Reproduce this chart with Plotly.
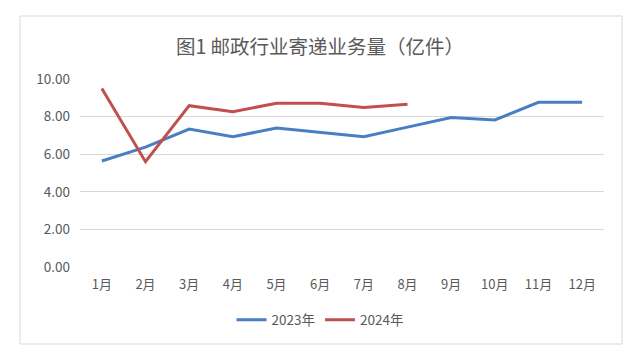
import plotly.graph_objects as go

months = ["1月", "2月", "3月", "4月", "5月", "6月", "7月", "8月", "9月", "10月", "11月", "12月"]
y2023 = [5.64, 6.38, 7.34, 6.93, 7.39, 7.18, 6.93, 7.44, 7.95, 7.82, 8.76, 8.76]
months2024 = months[:8]
y2024 = [9.50, 5.60, 8.58, 8.26, 8.71, 8.71, 8.48, 8.66]
yticks = [0, 2, 4, 6, 8, 10]
ytick_text = ["0.00", "2.00", "4.00", "6.00", "8.00", "10.00"]

font = "Noto Sans CJK SC, Microsoft YaHei, sans-serif"
# The page body has an 8px margin, so the figure is 8px smaller and offset.
W, H = 624, 350
L, T = 72, 71
PW, PH = 524, 188

fig = go.Figure()
fig.add_trace(go.Scatter(x=months, y=y2023, mode="lines", name="2023年",
                         line=dict(color="#4A7EC4", width=3)))
fig.add_trace(go.Scatter(x=months2024, y=y2024, mode="lines", name="2024年",
                         line=dict(color="#C0504D", width=3)))

fig.update_layout(
    width=W, height=H,
    margin=dict(l=L, r=W - L - PW, t=T, b=H - T - PH),
    paper_bgcolor="white", plot_bgcolor="white",
    font=dict(family=font, color="#595959", size=13.5),
    title=dict(text="图1 邮政行业寄递业务量（亿件）", x=0.5, xanchor="center",
               y=1 - 39 / H, yanchor="middle",
               font=dict(size=19.5, color="#595959", family=font)),
    showlegend=True,
    legend=dict(orientation="h", x=(312 - L) / PW, xanchor="center",
                y=-53 / PH, yanchor="middle",
                font=dict(size=13.5, color="#595959"), itemwidth=30, tracegroupgap=0),
    xaxis=dict(type="category", categoryorder="array", categoryarray=months,
               range=[-0.5, 11.5], showgrid=False, showline=False, zeroline=False,
               ticks="", ticklabelstandoff=8,
               tickfont=dict(size=13, color="#595959"), fixedrange=True),
    yaxis=dict(range=[0, 10], tickvals=yticks, ticktext=ytick_text,
               showgrid=True, gridcolor="#D9D9D9", gridwidth=1, zeroline=False,
               showline=False, ticks="", ticklabelstandoff=9,
               tickfont=dict(size=13.5, color="#595959"), fixedrange=True),
    shapes=[dict(type="rect", xref="paper", yref="paper",
                 x0=(12 - L) / PW, x1=(614 - L) / PW,
                 y0=(T + PH - 336) / PH, y1=(T + PH - 8) / PH,
                 line=dict(color="#D9D9D9", width=1), fillcolor="rgba(0,0,0,0)",
                 layer="below")],
)
fig.write_html("out.html")
